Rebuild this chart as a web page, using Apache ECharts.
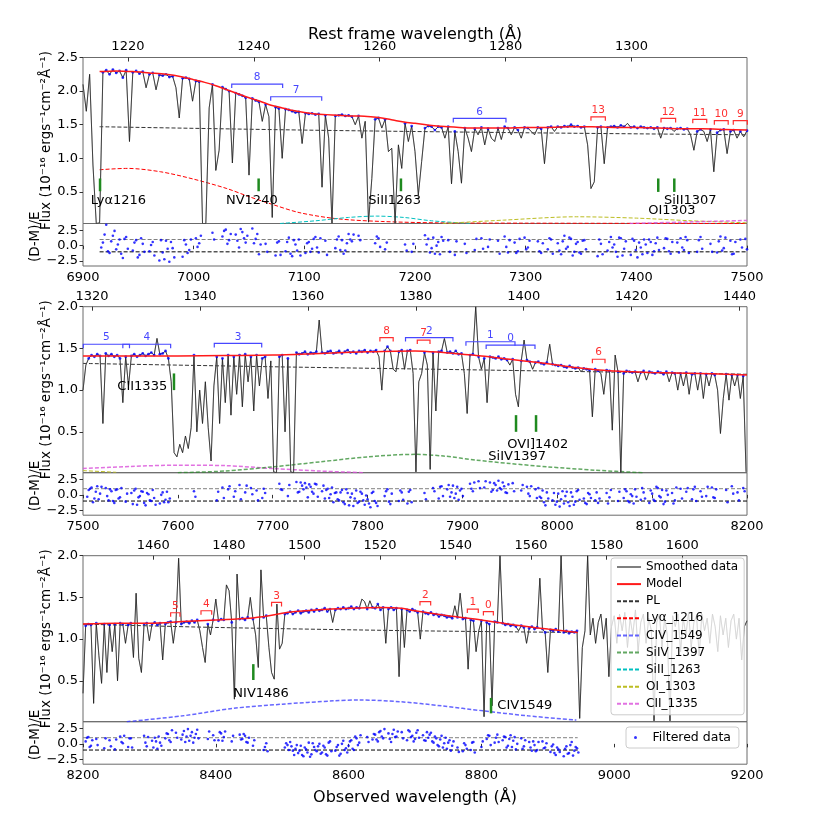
<!DOCTYPE html>
<html>
<head>
<meta charset="utf-8">
<script src="https://cdn.jsdelivr.net/npm/echarts@6/dist/echarts.min.js"></script>
<style>
  html, body { margin: 0; padding: 0; background: #fff; }
  #chart-container { width: 830px; height: 830px; }
</style>
</head>
<body>
<div id="chart-container"></div>
<script>
// (1+z): observed = rest * ZF
var ZF = 5.689;

var xRange1 = [6900, 7500], xRange2 = [7500, 8200], xRange3 = [8200, 9200];
var restTicks1 = [1220, 1240, 1260, 1280, 1300];
var restTicks2 = [1320, 1340, 1360, 1380, 1400, 1420, 1440];
var restTicks3 = [1460, 1480, 1500, 1520, 1540, 1560, 1580, 1600];
var fluxTicks1 = [0.5, 1.0, 1.5, 2.0, 2.5];
var fluxTicks23 = [0.5, 1.0, 1.5, 2.0];
var residTicks = [-2.5, 0, 2.5];

// spectrum, panel 1: 6900 + 3*i
var flux1 = [
  2.10, 1.70, 2.25, 0.90, 0.03, 0.04, 2.28, 2.31, 2.25, 2.32,
  2.27, 2.30, 2.20, 2.31, 1.25, 2.28, 2.30, 2.26, 2.29, 2.05,
  2.25, 2.27, 2.02, 2.24, 2.23, 2.25, 2.21, 2.22, 2.05, 1.60,
  2.19, 2.20, 2.18, 1.85, 2.15, 2.14, 0.03, 0.03, 1.75, 2.10,
  0.82, 1.12, 2.06, 2.03, 2.00, 0.93, 1.97, 1.95, 1.93, 1.90,
  0.75, 1.89, 1.86, 1.84, 1.55, 1.80, 1.62, 0.12, 1.76, 1.74,
  1.00, 1.73, 1.72, 1.70, 1.68, 1.69, 1.22, 1.67, 1.66, 1.67,
  1.65, 1.66, 0.57, 1.64, 1.30, 0.03, 1.63, 1.64, 1.65, 1.63,
  1.64, 1.62, 1.50, 1.63, 1.30, 1.55, 0.05, 0.70, 1.58, 1.60,
  1.45, 1.58, 1.10, 1.15, 0.03, 1.20, 0.85, 1.52, 1.25, 1.48,
  1.10, 0.45, 0.95, 1.45, 1.48, 1.47, 1.42, 1.47, 1.46, 1.30,
  1.47, 0.62, 1.40, 1.10, 0.63, 1.45, 1.30, 1.10, 1.44, 1.35,
  1.46, 1.20, 1.44, 1.30, 1.25, 1.45, 1.28, 1.47, 1.45, 1.35,
  1.46, 1.42, 1.30, 1.46, 1.45, 1.40, 1.35, 1.46, 1.44, 0.92,
  1.46, 1.47, 1.40, 1.47, 1.46, 1.48, 1.47, 1.50, 1.47, 1.48,
  1.46, 1.47, 1.20, 0.55, 0.65, 1.46, 1.47, 0.92, 1.46, 1.47,
  1.48, 1.46, 1.49, 1.47, 1.52, 1.46, 1.47, 1.45, 1.47, 1.46,
  1.45, 1.46, 1.44, 1.46, 1.30, 1.45, 1.44, 1.45, 1.40, 1.44,
  1.45, 1.43, 1.44, 1.35, 1.12, 1.40, 1.43, 1.40, 1.25, 1.43,
  0.80, 1.38, 1.42, 1.43, 1.07, 1.40, 1.42, 1.30, 1.40, 1.32,
  1.41
];
// residuals at the same wavelengths (null = masked)
var resid1 = [
  null, null, null, null, null, null, 0.5, 3.4, -1.2, 1.6,
  -0.6, 1.0, -2.0, 1.4, null, -0.8, 0.9, -1.5, 0.3, null,
  -0.9, 0.6, null, -2.4, -1.1, 0.8, -2.6, -0.4, null, null,
  -1.8, 0.2, -0.7, null, 1.2, 0.4, null, null, null, 2.1,
  null, null, 1.5, 2.6, 0.9, null, 1.8, -0.3, 2.2, 0.5,
  null, 2.8, 1.1, -1.4, null, 0.3, null, null, -1.6, 0.7,
  null, -0.9, 1.3, -1.7, 0.2, 1.0, null, -1.2, 0.6, -0.5,
  1.4, -1.1, null, 0.8, null, null, -0.4, 1.5, 0.9, -0.8,
  1.9, 0.7, null, 1.6, null, null, null, null, 0.4, 1.2,
  null, -0.6, null, null, null, null, null, 0.2, null, -1.0,
  null, null, null, 1.7, 1.1, -0.4, -1.3, 0.6, 1.4, null,
  0.9, null, -1.5, null, null, 0.3, null, null, -0.7, null,
  1.2, null, -0.2, null, null, 0.8, null, 1.5, -1.1, null,
  0.5, -0.9, null, 1.3, -0.3, null, null, 0.7, -1.2, null,
  -0.6, 1.0, null, 0.4, -1.4, 1.6, -0.2, 1.1, -1.0, 0.6,
  -1.3, 0.9, null, null, null, -1.7, 0.3, null, -0.8, 1.4,
  0.2, -1.8, 1.2, -0.5, null, -1.5, 0.8, -1.9, -0.3, 1.0,
  -1.2, 0.6, -0.9, 1.3, null, -0.4, 1.1, -1.3, null, 0.5,
  1.2, -0.7, 0.9, null, null, -1.0, 1.4, null, null, 0.3,
  null, -1.1, 1.5, -0.4, null, 0.8, -1.3, null, 1.0, null,
  -0.6
];
// residuals of the in-between pixels: 6901.5 + 3*i
var resid1b = [
  null, null, null, null, null, -0.3, 1.8, -0.9, 0.7, 2.4,
  0.2, -1.3, 1.1, -0.5, null, 0.5, -1.9, 1.2, -1.0, null,
  0.1, -1.6, null, 0.9, -2.2, -0.5, 0.6, -1.9, null, null,
  0.9, -1.2, 1.0, null, -0.2, 1.6, null, null, null, 1.0,
  null, null, 2.4, 0.3, 1.9, null, 0.8, 2.7, 1.2, 1.6,
  null, 0.4, 1.9, 0.2, null, -1.0, null, null, 0.5, -1.5,
  null, 0.6, -1.3, 0.9, -0.8, -1.6, null, 0.4, -1.0, 1.1,
  -0.3, 1.2, null, -1.5, null, null, 1.0, -0.7, -1.3, 0.4,
  1.0, 1.8, null, 0.9, null, null, null, null, 1.5, -0.2,
  null, 0.5, null, null, null, null, null, -0.8, null, 0.3,
  null, null, null, 0.2, -1.1, 1.3, 0.0, -1.4, 0.8, null,
  -1.0, null, 0.7, null, null, -1.2, null, null, 1.1, null,
  -0.5, null, 1.0, null, null, -1.3, null, -0.2, 0.9, null,
  -1.2, 1.1, null, -0.6, 0.8, null, null, -0.9, 0.4, null,
  1.2, -1.3, null, -0.8, 0.7, -0.5, 1.3, -1.6, 0.3, -1.1,
  0.8, -0.6, null, null, null, 1.0, -1.4, null, 0.6, -0.3,
  -1.0, 1.3, -1.6, 0.7, null, 1.1, -0.7, 0.5, -1.4, 0.2,
  1.0, -1.5, 0.4, -0.7, null, 1.2, -0.9, 0.6, null, -1.1,
  -0.3, 1.4, -1.2, null, null, 0.9, -0.5, null, null, -1.0,
  null, 0.7, -0.8, 1.3, null, -1.4, 0.6, null, -0.3, 1.1
];

// spectrum, panel 2: 7500 + 3*i
var flux2 = [
  1.00, 1.30, 1.38, 1.42, 1.40, 1.43, 1.41, 0.60, 1.44, 1.41,
  1.43, 1.40, 1.42, 1.38, 0.85, 1.40, 1.05, 1.41, 1.43, 1.40,
  1.42, 1.44, 1.41, 1.43, 1.45, 1.42, 1.62, 1.43, 1.44, 1.47,
  1.38, 1.10, 0.25, 0.20, 0.35, 0.25, 0.45, 0.30, 0.55, 1.42,
  0.50, 1.00, 0.60, 1.10, 0.55, 0.15, 1.05, 1.40, 0.60, 1.38,
  0.85, 1.42, 0.70, 1.40, 0.95, 1.42, 0.80, 1.43, 1.10, 1.40,
  0.75, 1.42, 1.05, 1.38, 1.40, 0.90, 1.35, 0.02, 0.01, 1.40,
  1.42, 0.50, 1.38, 0.02, 0.01, 1.45, 1.43, 1.44, 1.46, 1.43,
  1.45, 1.44, 1.46, 1.84, 1.45, 1.44, 1.46, 1.47, 1.44, 1.45,
  1.47, 1.44, 1.46, 1.48, 1.45, 1.46, 1.44, 1.47, 1.46, 1.48,
  1.45, 1.47, 1.46, 1.48, 1.40, 1.00, 1.47, 1.52, 1.47, 1.25,
  1.22, 1.46, 1.48, 1.25, 1.47, 1.48, 1.20, 0.02, 1.10, 1.20,
  1.45, 1.30, 0.05, 1.45, 0.75, 1.46, 1.47, 1.62, 1.45, 1.46,
  1.44, 1.47, 1.43, 1.44, 1.20, 0.72, 1.42, 1.43, 2.00, 1.40,
  1.25, 1.38, 0.85, 1.40, 1.39, 1.38, 1.40, 1.37, 1.38, 1.36,
  1.30, 1.37, 0.95, 0.80, 1.35, 1.60, 1.36, 1.34, 1.25, 1.33,
  1.34, 1.32, 1.31, 1.33, 1.55, 1.31, 1.30, 1.29, 1.30, 1.28,
  1.27, 1.29, 1.27, 1.26, 1.27, 1.22, 1.26, 1.25, 1.24, 0.68,
  1.25, 1.23, 1.20, 0.95, 1.24, 1.23, 0.52, 1.42, 1.22, 0.01,
  1.20, 1.23, 1.22, 1.21, 1.22, 1.10, 1.21, 1.23, 1.12, 1.22,
  1.21, 1.20, 1.22, 1.21, 1.19, 1.22, 1.10, 1.21, 1.20, 1.00,
  1.20, 1.05, 1.21, 0.95, 1.19, 1.20, 1.00, 1.20, 0.90, 1.19,
  1.05, 1.20, 1.18, 1.00, 0.48, 0.90, 1.19, 0.88, 1.18, 1.05,
  1.18, 0.90, 1.17, 0.02
];
var resid2 = [
  null, null, 0.8, 1.2, -0.6, 1.4, 0.2, null, 1.1, -0.9,
  0.6, -1.3, 0.9, -0.4, null, -1.1, null, 0.3, 0.7, -1.6,
  -0.2, 0.5, -1.7, 0.1, -1.0, -0.5, null, -1.4, 0.4, -0.8,
  -1.2, null, null, null, null, null, null, null, null, 0.6,
  null, null, null, null, null, null, null, -0.9, null, 1.2,
  null, 0.9, null, -0.3, null, 1.6, null, 0.4, null, 1.1,
  null, 0.7, null, -0.5, 0.3, null, null, null, null, 1.8,
  0.8, null, -0.2, null, null, 2.1, 0.5, 1.5, 1.9, -0.4,
  1.3, 0.2, 1.7, null, 0.6, -0.6, 1.0, 0.1, -1.2, 0.4,
  -0.9, 0.8, -1.5, 0.3, -0.4, -1.8, 0.7, -1.1, 0.2, -1.6,
  -0.7, -2.0, 0.5, -1.3, null, null, -0.2, 0.9, -1.5, null,
  null, -1.0, 0.4, null, -1.4, 0.8, null, null, null, null,
  0.3, null, null, 1.1, null, -0.6, 1.4, null, 0.9, -0.3,
  1.5, 0.2, -0.8, 1.0, null, null, 1.8, 0.6, null, 2.2,
  null, 1.2, null, 2.0, 0.8, 1.6, 2.3, 0.9, 1.4, 0.3,
  null, 1.9, null, null, 0.7, null, 1.3, -0.2, null, 0.9,
  1.1, -0.5, -1.2, 0.4, null, -0.9, -1.6, 0.2, -0.7, -1.4,
  0.5, -1.8, -0.3, -1.1, 0.8, null, -0.6, -1.5, 0.1, null,
  -0.9, -1.3, null, null, 0.3, -0.4, null, null, -1.0, null,
  -0.5, 0.6, -1.2, -0.2, 0.9, null, -0.8, 0.4, null, -1.3,
  0.2, -1.0, 1.1, -0.4, -1.5, 0.7, null, 0.3, -0.9, null,
  1.0, null, 0.5, null, -0.7, 1.3, null, 0.6, null, -0.2,
  null, 1.2, -0.5, null, null, null, 0.8, null, 1.4, null,
  0.4, null, 1.1, null
];
// 7501.5 + 3*i
var resid2b = [
  null, -0.3, 1.0, -1.2, 0.5, -0.7, 1.3, null, -0.2, 0.9,
  -1.0, 0.8, -0.6, 1.1, null, 0.2, null, -1.5, 1.0, -0.4,
  0.6, -1.3, 0.3, -0.9, 0.8, -1.6, null, 0.0, -1.2, 0.5,
  -0.6, null, null, null, null, null, null, null, null, -0.3,
  null, null, null, null, null, null, null, 0.5, null, -0.5,
  null, 1.4, null, 0.6, null, -0.7, null, 1.5, null, 0.1,
  null, -0.9, null, 1.0, null, null, null, null, null, 0.9,
  null, null, 1.6, null, null, 0.4, 2.0, 0.9, 1.2, 1.7,
  0.5, 1.8, -0.3, null, 1.5, 0.8, -0.5, 1.2, 0.3, -0.7,
  0.4, -1.2, 0.9, -1.7, 0.2, -0.6, -1.3, 0.5, -0.9, -0.1,
  -1.4, 0.3, -1.0, -1.8, null, null, 0.6, -1.1, 0.2, null,
  null, 0.7, -0.8, null, 0.5, -1.2, null, null, null, null,
  -0.7, null, null, 0.6, null, 1.3, -0.2, null, 1.6, 0.4,
  -0.5, 1.3, 0.7, -0.2, null, null, 1.0, 2.0, null, 1.1,
  null, 2.2, null, 0.5, 1.9, 0.7, 1.1, 2.0, 0.4, 1.7,
  null, 0.6, null, null, 1.6, null, 0.2, 1.4, null, -0.5,
  -0.3, 0.7, -1.7, -0.6, null, 0.3, -1.1, -1.9, 0.6, -0.2,
  -1.2, 0.4, -1.6, 0.6, -0.8, null, -1.3, 0.3, -0.5, null,
  0.4, -0.6, null, null, -1.4, 0.8, null, null, 0.5, null,
  0.9, -1.0, 0.1, -1.4, -0.3, null, 1.1, -0.6, null, 0.7,
  -0.8, 1.3, -0.2, 0.8, -1.1, 0.0, null, -1.4, 1.2, null,
  -0.6, null, 1.1, null, 0.9, -1.0, null, -0.3, null, 1.3,
  null, -0.4, 0.9, null, null, null, -1.2, null, 0.2, null,
  -0.9, null, 0.6
];

// spectrum, panel 3: 8200 + 4*i
var flux3 = [
  0.35, 1.16, 1.18, 1.17, 0.23, 1.19, 0.80, 0.47, 1.18, 0.60,
  1.17, 0.85, 1.18, 0.50, 1.19, 1.18, 0.95, 1.17, 1.19, 0.78,
  1.55, 0.77, 0.60, 1.18, 1.19, 0.98, 1.18, 1.20, 1.17, 1.19,
  0.75, 1.18, 1.20, 1.21, 0.95, 1.20, 1.97, 1.18, 1.20, 1.21,
  1.19, 1.22, 1.20, 1.23, 1.10, 0.90, 0.72, 1.18, 1.05, 1.23,
  1.48, 1.22, 1.24, 1.23, 1.65, 1.58, 1.20, 0.28, 1.78, 1.24,
  1.25, 1.23, 1.26, 1.50, 1.24, 1.05, 0.66, 1.83, 1.26, 1.28,
  0.90, 0.60, 0.52, 1.42, 0.88, 0.95, 1.30, 1.31, 1.33, 1.30,
  1.32, 1.34, 1.31, 1.33, 1.34, 1.32, 1.35, 1.33, 1.36, 1.34,
  1.35, 1.37, 1.33, 1.36, 1.20, 1.35, 1.37, 1.36, 1.38, 1.36,
  1.37, 1.39, 1.36, 1.38, 1.37, 1.48, 1.45, 1.36, 1.46, 1.38,
  1.37, 1.42, 1.35, 1.38, 0.95, 1.36, 1.38, 1.35, 1.37, 0.55,
  1.36, 0.90, 1.35, 1.33, 1.36, 1.34, 1.32, 1.00, 1.33, 1.31,
  1.30, 1.32, 1.29, 1.30, 1.27, 1.29, 1.28, 1.26, 1.27, 1.25,
  1.40, 1.26, 1.55, 1.24, 1.25, 0.64, 1.23, 1.22, 0.85, 1.10,
  1.22, 0.07, 1.20, 1.18, 0.20, 1.21, 1.20, 2.00, 1.19, 1.17,
  1.18, 1.16, 1.17, 1.15, 1.10, 1.16, 1.14, 0.95, 1.13, 1.15,
  1.12, 1.14, 1.73, 1.12, 1.08, 0.60, 1.11, 1.10, 1.12, 1.09,
  2.00, 1.08, 1.10, 1.07, 1.09, 1.08, 1.10, 0.05, 0.90, 1.10,
  2.00, 1.05, 1.25, 0.95, 1.20, 1.30, 1.00, 1.25, 0.55, 1.15,
  1.28, 0.95, 1.30, 1.10, 1.32, 0.90, 1.25, 1.05, 1.35, 0.85,
  1.20, 1.30, 0.95, 1.25, 1.10, 0.02, 1.20, 1.30, 0.90, 1.25,
  1.05, 0.02, 1.28, 1.15, 1.30, 0.85, 1.25, 1.05, 1.32, 0.90,
  1.20, 1.28, 0.80, 1.30, 1.10, 1.25, 0.95, 1.30, 1.15, 0.85,
  1.28, 1.05, 1.25, 0.90, 1.22, 1.30, 1.00, 1.25, 0.75, 1.15,
  1.22
];
var resid3 = [
  null, 0.4, 1.1, -0.3, null, 0.8, null, null, -0.7, null,
  0.6, null, -0.9, null, 1.2, 0.1, null, -0.5, 0.9, null,
  null, null, null, 1.3, -0.4, null, 0.5, 1.0, -0.8, 0.2,
  null, 0.9, 1.6, 0.3, null, 1.8, null, 0.7, 2.1, 1.2,
  0.5, 1.9, 1.0, 2.3, null, null, null, 0.8, null, 1.4,
  null, 0.6, 1.7, 1.1, null, null, 0.4, null, null, 1.5,
  0.8, 1.3, 0.2, null, -0.3, null, null, null, -1.0, 0.1,
  null, null, null, null, null, null, -0.6, -0.2, 0.3, -1.1,
  -0.8, -1.5, -0.3, -2.0, -0.9, 0.2, -1.7, -0.5, -1.2, 0.0,
  -1.4, -0.6, -1.9, 0.4, null, -1.1, -0.2, -1.6, 0.5, -0.7,
  -0.3, 0.6, -1.0, 0.9, 0.2, null, null, 1.1, null, 0.7,
  1.5, 0.4, 2.1, 0.9, null, 1.7, 0.3, 2.3, 1.2, null,
  1.9, null, 0.6, 2.0, 1.3, 0.8, 2.2, null, 1.4, 0.5,
  1.0, 1.8, 0.2, 0.9, -0.4, 1.3, 0.1, -0.8, 0.6, -0.3,
  null, -0.6, null, -1.2, -0.2, null, -1.0, 0.3, null, null,
  -0.5, null, 0.8, 1.3, null, 0.2, 1.5, null, 0.6, 1.1,
  -0.3, 1.4, 0.5, -0.9, null, 0.9, -0.4, null, 0.3, -1.1,
  -0.2, -1.0, null, 0.4, -0.6, null, -1.3, -0.1, -1.8, -0.9,
  null, -2.0, -0.4, -1.5, 0.3, -1.1, -0.7, null, null, null
];
// 8202 + 4*i
var resid3b = [
  null, 1.0, -0.5, 0.6, null, -0.2, null, null, 0.9, null,
  -0.4, null, 0.7, null, 0.3, 1.3, null, 0.9, -0.6, null,
  null, null, null, 0.2, 1.1, null, -0.6, 0.4, 1.2, -0.3,
  null, 1.7, 0.6, 2.2, null, 1.0, null, 1.5, 0.3, 2.4,
  1.3, 0.2, 1.6, 0.9, null, null, null, 2.0, null, 0.6,
  null, 1.9, 0.5, 2.0, null, null, 1.3, null, null, 0.7,
  1.6, 0.3, 1.0, null, 0.6, null, null, null, -0.5, -1.2,
  null, null, null, null, null, null, 0.1, -1.0, -0.4, -1.8,
  -0.2, -1.1, -1.8, -0.6, -1.4, -2.1, 0.1, -1.0, -0.4, -1.6,
  -0.3, -1.7, 0.2, -1.2, null, -0.5, -1.9, 0.0, -1.0, -1.4,
  0.4, -0.8, 1.2, -0.2, 1.4, null, null, 0.3, null, 1.6,
  0.7, 1.9, 1.2, 2.4, null, 0.8, 1.6, 1.1, 2.0, null,
  0.9, null, 2.2, 1.1, 0.4, 1.8, 1.0, null, 0.6, 1.9,
  1.5, 0.4, 1.2, -0.2, 0.7, -0.6, 1.0, 0.2, -1.1, 0.4,
  null, -1.3, null, 0.1, -0.8, null, 0.2, -1.4, null, null,
  0.4, null, 1.4, -0.2, null, 1.0, 0.3, null, 1.2, -0.6,
  0.8, -0.5, 1.1, 0.0, null, -0.8, 0.6, null, -0.6, 0.4,
  -1.2, 0.3, null, -0.7, 0.1, null, -0.4, -1.5, -0.6, -1.3,
  null, -0.8, -1.6, -0.2, -1.9, -0.5, -1.4
];

// fitted model and power law
var model1 = [[6915,2.29],[6930,2.30],[6945,2.29],[6960,2.27],[6975,2.25],[6990,2.21],[7000,2.17],[7010,2.13],[7020,2.08],[7030,2.02],[7040,1.96],[7050,1.90],[7060,1.85],[7070,1.79],[7080,1.75],[7090,1.71],[7100,1.68],[7110,1.66],[7120,1.65],[7130,1.64],[7140,1.63],[7150,1.63],[7160,1.62],[7170,1.60],[7180,1.57],[7190,1.54],[7200,1.52],[7210,1.50],[7220,1.48],[7230,1.47],[7240,1.46],[7250,1.45],[7260,1.45],[7280,1.45],[7300,1.46],[7320,1.46],[7340,1.47],[7360,1.47],[7380,1.46],[7400,1.46],[7420,1.45],[7440,1.44],[7460,1.44],[7480,1.43],[7500,1.42]];
var model2 = [[7500,1.41],[7550,1.41],[7600,1.41],[7650,1.415],[7700,1.42],[7750,1.44],[7800,1.46],[7850,1.47],[7880,1.45],[7900,1.43],[7920,1.41],[7950,1.37],[7980,1.33],[8000,1.30],[8020,1.27],[8040,1.245],[8060,1.23],[8080,1.22],[8100,1.21],[8150,1.20],[8200,1.18]];
var model3 = [[8200,1.18],[8250,1.19],[8300,1.19],[8350,1.21],[8400,1.23],[8450,1.25],[8480,1.28],[8500,1.31],[8520,1.33],[8550,1.35],[8600,1.37],[8650,1.38],[8680,1.37],[8700,1.34],[8750,1.28],[8800,1.23],[8850,1.17],[8900,1.12],[8945,1.08]];
var pl1 = [[6915,1.47],[7100,1.42],[7300,1.38],[7500,1.35]];
var pl2 = [[7500,1.32],[7700,1.28],[7900,1.245],[8200,1.19]];
var pl3 = [[8200,1.18],[8400,1.14],[8700,1.10],[8945,1.08]];

// emission-line components
var lya1 = [[6915,0.83],[6940,0.85],[6970,0.80],[7000,0.69],[7030,0.55],[7050,0.43],[7070,0.32],[7096,0.19],[7130,0.10],[7170,0.06],[7220,0.04],[7300,0.035],[7500,0.03]];
var siII1 = [[7078,0.03],[7110,0.07],[7140,0.12],[7165,0.14],[7190,0.12],[7215,0.07],[7250,0.03]];
var oI1 = [[7225,0.03],[7280,0.08],[7346,0.13],[7400,0.11],[7450,0.07],[7500,0.04]];
var cII1 = [[7394,0.03],[7440,0.05],[7500,0.075]];
var oI2 = [[7500,0.035],[7535,0.015]];
var cII2 = [[7500,0.06],[7550,0.085],[7600,0.10],[7650,0.095],[7700,0.06],[7750,0.03],[7795,0.01]];
var siIV2 = [[7600,0.01],[7650,0.03],[7700,0.08],[7750,0.14],[7800,0.20],[7850,0.23],[7880,0.21],[7915,0.16],[7950,0.12],[7990,0.08],[8040,0.04],[8090,0.01]];
var cIV3 = [[8266,0.01],[8350,0.08],[8426,0.17],[8500,0.22],[8577,0.26],[8617,0.27],[8677,0.25],[8740,0.20],[8803,0.14],[8870,0.08],[8943,0.03]];

// absorption systems: [from, to, level, label]
var bracketsBlue1 = [[7034.4, 7080.4, 2.105, '8'], [7069.6, 7115.7, 1.916, '7'], [7234.6, 7282.2, 1.594, '6']];
var bracketsRed1 = [[7359, 7372, 1.618, '13'], [7422.3, 7435.5, 1.594, '12'], [7451, 7463.6, 1.58, '11'], [7470.5, 7483, 1.56, '10'], [7487.6, 7500.3, 1.56, '9']];
var bracketsBlue2 = [[7500.3, 7549, 1.55, '5'], [7542, 7592.4, 1.55, '4'], [7638.4, 7688.4, 1.56, '3'], [7840, 7890, 1.63, '2'], [7903.7, 7955.4, 1.58, '1'], [7925, 7976.5, 1.54, '0']];
var bracketsRed2 = [[7813, 7827, 1.63, '8'], [7852.4, 7865.8, 1.60, '7'], [8037, 8050.3, 1.37, '6']];
var bracketsBlue3 = [];
var bracketsRed3 = [[8332, 8346, 1.316, '5'], [8377.7, 8393.8, 1.34, '4'], [8484, 8499, 1.44, '3'], [8707.5, 8723.6, 1.45, '2'], [8778.8, 8795.3, 1.36, '1'], [8803, 8818, 1.33, '0']];

// line identifications: tick [x, y1, y2], text [label, x, y]
var lineMarks1 = [[6915.4, 0.51, 0.70], [7058.7, 0.51, 0.70], [7187.3, 0.51, 0.70], [7419.8, 0.50, 0.70], [7434.3, 0.50, 0.70]];
var lineTexts1 = [['Lyα1216', 6907, 0.376], ['NV1240', 7029.2, 0.376], ['SiII1263', 7157.8, 0.376], ['SiII1307', 7425, 0.376], ['OI1303', 7410.8, 0.227]];
var lineMarks2 = [[7595.9, 1.0, 1.2], [7956.5, 0.5, 0.7], [7977.6, 0.5, 0.7]];
var lineTexts2 = [['CII1335', 7536.2, 1.04], ['OVI]1402', 7947.3, 0.352], ['SiIV1397', 7927.3, 0.20]];
var lineMarks3 = [[8456.5, 0.51, 0.70], [8814.5, 0.11, 0.295]];
var lineTexts3 = [['NIV1486', 8426.4, 0.35], ['CIV1549', 8824, 0.2]];

var residBand1 = [6915, 7500], residBand2 = [7500, 8200], residBand3 = [8200, 8945];

var compStyle = {
  'Lyα_1216': { color: '#ff0000', width: 1, opacity: 1 },
  'CIV_1549': { color: '#3333ff', width: 1.5, opacity: 0.75 },
  'SiIV_1397': { color: '#2e8b2e', width: 1.5, opacity: 0.75 },
  'SiII_1263': { color: '#00c0c0', width: 1, opacity: 1 },
  'OI_1303': { color: '#bcbd22', width: 1, opacity: 1 },
  'CII_1335': { color: '#d94fd9', width: 1.5, opacity: 0.8 }
};

var panels = [
  { x: xRange1, yMin: 0.03, yMax: 2.5, fTicks: fluxTicks1, rest: restTicks1, start: 6900, step: 3,
    flux: flux1, resid: resid1, residB: resid1b, model: model1, pl: pl1, band: residBand1,
    comps: [['Lyα_1216', lya1], ['SiII_1263', siII1], ['OI_1303', oI1], ['CII_1335', cII1]],
    blue: bracketsBlue1, red: bracketsRed1, marks: lineMarks1, texts: lineTexts1, xInt: 100 },
  { x: xRange2, yMin: 0.01, yMax: 2.0, fTicks: fluxTicks23, rest: restTicks2, start: 7500, step: 3,
    flux: flux2, resid: resid2, residB: resid2b, model: model2, pl: pl2, band: residBand2,
    comps: [['OI_1303', oI2], ['CII_1335', cII2], ['SiIV_1397', siIV2]],
    blue: bracketsBlue2, red: bracketsRed2, marks: lineMarks2, texts: lineTexts2, xInt: 100 },
  { x: xRange3, yMin: 0.01, yMax: 2.0, fTicks: fluxTicks23, rest: restTicks3, start: 8200, step: 4,
    flux: flux3, resid: resid3, residB: resid3b, model: model3, pl: pl3, band: residBand3,
    comps: [['CIV_1549', cIV3]],
    blue: bracketsBlue3, red: bracketsRed3, marks: lineMarks3, texts: lineTexts3, xInt: 200 }
];

var mainTops = [57.5, 306.7, 555.7];
var MAIN_H = 166, RES_H = 42.5, LEFT = 83, WIDTH = 664;
var FONT = 'DejaVu Sans';

function plain(v) { return String(v); }

function bracketSeries(list, color, k) {
  return {
    type: 'custom', xAxisIndex: 3 * k, yAxisIndex: 2 * k, silent: true, z: 6,
    data: list.map(function (b) { return [b[0], b[1], b[2]]; }),
    encode: { x: [0, 1], y: 2 },
    renderItem: function (params, api) {
      var b = list[params.dataIndex];
      var a = api.coord([b[0], b[2]]), c = api.coord([b[1], b[2]]);
      return { type: 'group', children: [
        { type: 'polyline', shape: { points: [[a[0], a[1] + 4], [a[0], a[1]], [c[0], c[1]], [c[0], c[1] + 4]] },
          style: { stroke: color, fill: null, lineWidth: 1.2 } },
        { type: 'text', x: (a[0] + c[0]) / 2, y: a[1] - 1,
          style: { text: b[3], fill: color, font: '10.5px "DejaVu Sans"', align: 'center', verticalAlign: 'bottom' } }
      ] };
    }
  };
}

function markSeries(list, k) {
  return {
    type: 'custom', xAxisIndex: 3 * k, yAxisIndex: 2 * k, silent: true, z: 6,
    data: list.map(function (m) { return [m[0], m[1], m[2]]; }),
    encode: { x: 0, y: [1, 2] },
    renderItem: function (params, api) {
      var m = list[params.dataIndex];
      var a = api.coord([m[0], m[1]]), c = api.coord([m[0], m[2]]);
      return { type: 'line', shape: { x1: a[0], y1: a[1], x2: c[0], y2: c[1] },
        style: { stroke: '#1f8a1f', lineWidth: 2.5 } };
    }
  };
}

function textSeries(list, k) {
  return {
    type: 'custom', xAxisIndex: 3 * k, yAxisIndex: 2 * k, silent: true, z: 6,
    data: list.map(function (t) { return [t[1], t[2]]; }),
    encode: { x: 0, y: 1 },
    renderItem: function (params, api) {
      var t = list[params.dataIndex];
      var p = api.coord([t[1], t[2]]);
      return { type: 'text', x: p[0], y: p[1],
        style: { text: t[0], fill: '#000', font: '13px "DejaVu Sans"', align: 'left', verticalAlign: 'middle' } };
    }
  };
}

var grid = [], xAxis = [], yAxis = [], series = [];

panels.forEach(function (p, k) {
  var top = mainTops[k];
  grid.push({ left: LEFT, top: top, width: WIDTH, height: MAIN_H, show: true, borderColor: '#6b6b6b', borderWidth: 1 });
  grid.push({ left: LEFT, top: top + MAIN_H, width: WIDTH, height: RES_H, show: true, borderColor: '#6b6b6b', borderWidth: 1 });

  xAxis.push({ type: 'value', gridIndex: 2 * k, min: p.x[0], max: p.x[1], show: false });
  var resX = { type: 'value', gridIndex: 2 * k + 1, min: p.x[0], max: p.x[1], interval: p.xInt,
    axisLine: { show: false }, splitLine: { show: false },
    axisTick: { length: 3.5, lineStyle: { color: '#333' } },
    axisLabel: { fontSize: 13, color: '#000', margin: 5, showMinLabel: true, showMaxLabel: true, formatter: plain } };
  if (k === 2) {
    resX.name = 'Observed wavelength (Å)';
    resX.nameLocation = 'middle';
    resX.nameGap = 26;
    resX.nameMoveOverlap = false;
    resX.nameTextStyle = { fontSize: 16, color: '#000', fontFamily: FONT, verticalAlign: 'top' };
  }
  xAxis.push(resX);
  xAxis.push({ type: 'value', gridIndex: 2 * k, position: 'top', min: p.x[0] / ZF, max: p.x[1] / ZF,
    axisLine: { show: false }, splitLine: { show: false },
    axisTick: { inside: true, length: 4, customValues: p.rest, lineStyle: { color: '#333' } },
    axisLabel: { customValues: p.rest, fontSize: 13, color: '#000', margin: 4, formatter: plain } });

  yAxis.push({ type: 'value', gridIndex: 2 * k, min: p.yMin, max: p.yMax,
    axisLine: { show: false }, splitLine: { show: false },
    axisTick: { length: 3.5, customValues: p.fTicks, lineStyle: { color: '#333' } },
    axisLabel: { customValues: p.fTicks, fontSize: 13, color: '#000', margin: 5,
      formatter: function (v) { return v.toFixed(1); } },
    name: 'Flux (10⁻¹⁶ ergs⁻¹cm⁻²Å⁻¹)', nameLocation: 'middle', nameGap: 29.5, nameMoveOverlap: false,
    nameTextStyle: { fontSize: 13.5, color: '#000', fontFamily: FONT } });
  yAxis.push({ type: 'value', gridIndex: 2 * k + 1, min: -3.3, max: 3.6,
    axisLine: { show: false }, splitLine: { show: false },
    axisTick: { length: 3.5, customValues: residTicks, lineStyle: { color: '#333' } },
    axisLabel: { customValues: residTicks, fontSize: 13, color: '#000', margin: 5,
      formatter: function (v) { return v < 0 ? '\u2212' + (-v).toFixed(1) : v.toFixed(1); } },
    name: '(D-M)/E', nameLocation: 'middle', nameGap: 40.5, nameMoveOverlap: false,
    nameTextStyle: { fontSize: 13.5, color: '#000', fontFamily: FONT, padding: [0, 0, 0, 16] } });

  var xm = 3 * k, ym = 2 * k, xr = 3 * k + 1, yr = 2 * k + 1;
  var spec = p.flux.map(function (v, i) { return [p.start + i * p.step, v]; });
  var filt = [], res = [];
  p.resid.forEach(function (r, i) {
    if (r === null) return;
    filt.push([p.start + i * p.step, p.flux[i]]);
    res.push([p.start + i * p.step, r]);
  });
  p.residB.forEach(function (r, i) {
    if (r === null) return;
    res.push([p.start + p.step / 2 + i * p.step, r]);
  });

  p.comps.forEach(function (c) {
    var s = compStyle[c[0]];
    series.push({ name: c[0], type: 'line', xAxisIndex: xm, yAxisIndex: ym, data: c[1], symbol: 'none', smooth: 0.3, z: 2,
      lineStyle: { color: s.color, width: s.width, type: [4, 2], opacity: s.opacity }, itemStyle: { color: s.color } });
  });
  series.push({ name: 'PL', type: 'line', xAxisIndex: xm, yAxisIndex: ym, data: p.pl, symbol: 'none', smooth: 0.3, z: 2,
    lineStyle: { color: '#333', width: 1, type: [4, 2] }, itemStyle: { color: '#555' } });
  series.push({ name: 'Smoothed data', type: 'line', xAxisIndex: xm, yAxisIndex: ym, data: spec, symbol: 'none', z: 3,
    lineStyle: { color: '#7f7f7f', width: 1 }, itemStyle: { color: '#7f7f7f' } });
  series.push({ name: 'data', type: 'line', xAxisIndex: xm, yAxisIndex: ym, data: spec, symbol: 'none', z: 3,
    lineStyle: { color: '#000', width: 0.7, opacity: 0.7 } });
  series.push({ name: 'Filtered data', type: 'scatter', xAxisIndex: xm, yAxisIndex: ym, data: filt, symbolSize: 2.8, z: 4,
    itemStyle: { color: '#0000ff' } });
  series.push({ name: 'Model', type: 'line', xAxisIndex: xm, yAxisIndex: ym, data: p.model, symbol: 'none', smooth: 0.3, z: 5,
    lineStyle: { color: '#ff1a1a', width: 1.5 }, itemStyle: { color: '#ff6060' } });

  series.push({ name: 'Filtered data', type: 'scatter', xAxisIndex: xr, yAxisIndex: yr, data: res, symbolSize: 2.6, z: 4,
    itemStyle: { color: '#0000ff' } });
  series.push({ type: 'line', xAxisIndex: xr, yAxisIndex: yr, data: [[p.band[0], 1], [p.band[1], 1]], symbol: 'none', silent: true, z: 3,
    lineStyle: { color: '#808080', width: 1, type: [4, 2] } });
  series.push({ type: 'line', xAxisIndex: xr, yAxisIndex: yr, data: [[p.band[0], -1], [p.band[1], -1]], symbol: 'none', silent: true, z: 3,
    lineStyle: { color: '#000', width: 1, type: [4, 2] } });

  if (p.blue.length) series.push(bracketSeries(p.blue, '#4747ff', k));
  if (p.red.length) series.push(bracketSeries(p.red, '#ff3030', k));
  series.push(markSeries(p.marks, k));
  series.push(textSeries(p.texts, k));
});

var dom = document.getElementById('chart-container');
var myChart = echarts.init(dom, null, { renderer: 'canvas' });

var option = {
  animation: false,
  backgroundColor: '#fff',
  textStyle: { fontFamily: FONT },
  title: [{ text: 'Rest frame wavelength (Å)', left: 'center', top: 22,
    textStyle: { fontSize: 16, fontWeight: 'normal', color: '#000', fontFamily: FONT } }],
  legend: [
    { data: ['Smoothed data', 'Model', 'PL', 'Lyα_1216', 'CIV_1549', 'SiIV_1397', 'SiII_1263', 'OI_1303', 'CII_1335'],
      orient: 'vertical', left: 611, top: 558, itemWidth: 24, itemHeight: 12, itemGap: 5.1,
      itemStyle: { opacity: 0 },
      padding: [3, 6, 5, 5], backgroundColor: 'rgba(255,255,255,0.8)', borderColor: '#cccccc', borderWidth: 1, borderRadius: 3,
      selectedMode: false, textStyle: { fontSize: 12, color: '#000', fontFamily: FONT, lineHeight: 12 } },
    { data: ['Filtered data'], left: 626, top: 727, itemWidth: 24, itemHeight: 3, icon: 'circle',
      padding: [4, 8, 4, 8], backgroundColor: 'rgba(255,255,255,0.8)', borderColor: '#cccccc', borderWidth: 1, borderRadius: 3,
      selectedMode: false, textStyle: { fontSize: 12.5, color: '#000', fontFamily: FONT } }
  ],
  grid: grid,
  xAxis: xAxis,
  yAxis: yAxis,
  series: series
};

myChart.setOption(option);
window.addEventListener('resize', myChart.resize);
</script>
</body>
</html>
